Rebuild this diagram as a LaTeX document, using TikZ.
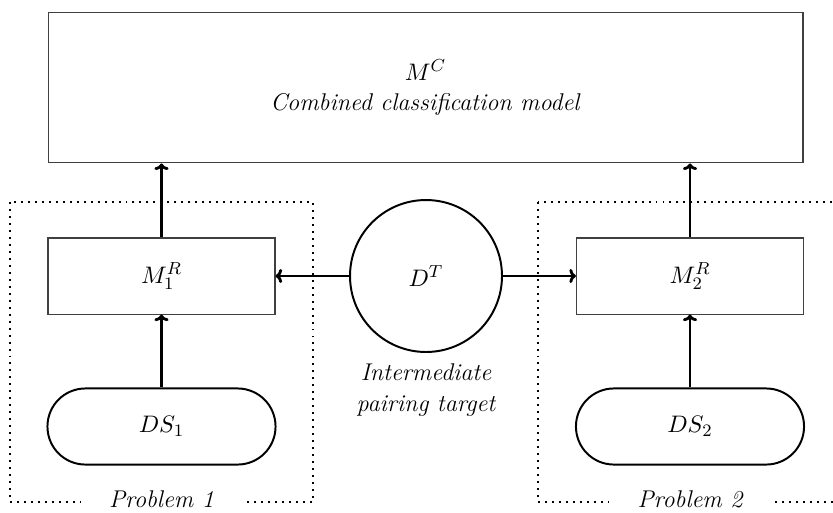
\documentclass[tikz,border=0pt]{standalone}
\usetikzlibrary{arrows.meta}
\newcommand{\myfs}{\fontsize{11.1}{13.5}\selectfont}
\begin{document}
\begin{tikzpicture}[x=0.4586pt,y=-0.4586pt,
  thinbox/.style={draw=black!75, line width=0.5pt, inner sep=0pt, align=center, font=\myfs},
  stadium/.style={draw=black, line width=0.9pt, rounded corners=17.4pt, inner sep=0pt, minimum width=104.6pt, minimum height=34.9pt, font=\myfs},
  circ/.style={draw=black, line width=0.9pt, circle, inner sep=0pt, minimum size=69.7pt, font=\myfs},
  flow/.style={-{To[length=3pt,width=6.5pt]}, line width=1.3pt},
  dotbox/.style={line width=0.9pt, dash pattern=on 0.9pt off 2.3pt},
  problabel/.style={fill=white, inner xsep=13pt, inner ysep=2pt, font=\myfs\itshape}
  ]
\useasboundingbox (0,0) rectangle (833,512);
% dotted problem boxes
\draw[dotbox] (10,202) rectangle (313,502);
\draw[dotbox] (538,202) rectangle (842,502);
\node[problabel] (p1) at (161.5,499) {Problem 1};
\node[problabel] (p2) at (690,499) {Problem 2};
% nodes
\node[thinbox, minimum width=346.2pt, minimum height=69.2pt] (C) at (425.5,87.5)
  {$M^C$\\[0.5pt] \textit{Combined classification model}};
\node[thinbox, minimum width=104.1pt, minimum height=34.9pt] (M1) at (161.5,276) {$M^R_1$};
\node[thinbox, minimum width=104.1pt, minimum height=34.9pt] (M2) at (690,276) {$M^R_2$};
\node[circ, fill=white] (D) at (426,276) {$D^T$};
\node[align=center, font=\myfs\itshape] (Dl) at (426,390) {Intermediate\\[0.5pt] pairing target};
\node[stadium] (S1) at (161.5,426.5) {$DS_1$};
\node[stadium] (S2) at (690,426.5) {$DS_2$};
% connectors
\draw[flow] (S1.north) -- (M1.south);
\draw[flow] (S2.north) -- (M2.south);
\draw[flow] (M1.north) -- (M1.north |- C.south);
\draw[flow] (M2.north) -- (M2.north |- C.south);
\draw[flow] (D.west) -- (M1.east);
\draw[flow] (D.east) -- (M2.west);
\end{tikzpicture}
\end{document}
